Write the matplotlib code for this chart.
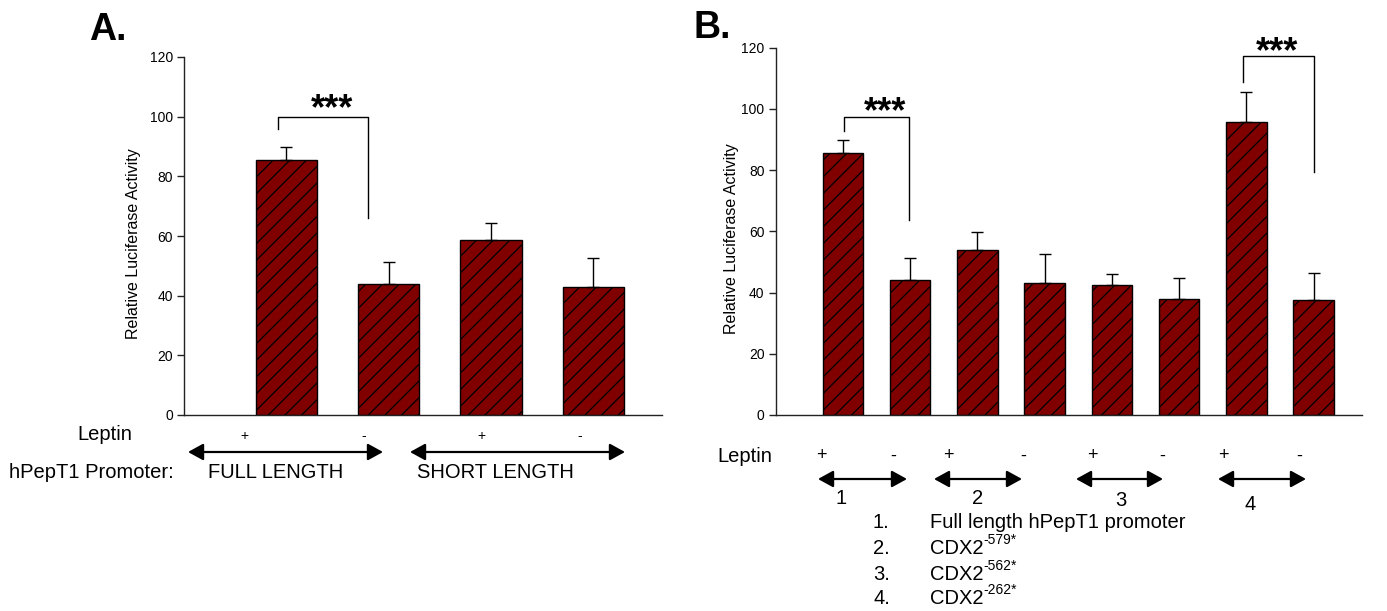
import matplotlib
matplotlib.use("Agg")
import matplotlib.pyplot as plt
from matplotlib.patches import FancyArrowPatch
from matplotlib.text import Annotation

plt.rcParams["font.family"] = ["Liberation Sans", "DejaVu Sans"]
plt.rcParams["hatch.linewidth"] = 0.9

W, H = 1387, 611
MAROON = "#800000"
AXCOL = "#222222"

# ---- data -------------------------------------------------------------
a_means = [85.5, 43.8, 58.6, 43.0]
a_err = [4.4, 7.5, 5.7, 9.5]

b_means = [85.6, 44.0, 54.0, 43.2, 42.4, 38.0, 95.8, 37.6]
b_err = [4.3, 7.4, 5.7, 9.5, 3.6, 6.9, 9.7, 8.9]

y_ticks = [0, 20, 40, 60, 80, 100, 120]
y_label = "Relative Luciferase Activity"

b_legend_nums = ["1.", "2.", "3.", "4."]
b_legend_base = ["Full length hPepT1 promoter", "CDX2", "CDX2", "CDX2"]
b_legend_sup = ["", "-579*", "-562*", "-262*"]


def px(x, y):
    """pixel position (from top-left) -> figure fraction"""
    return x / W, 1 - y / H


def style_axes(ax, xmax):
    ax.set_xlim(0, xmax)
    ax.set_ylim(0, 120)
    ax.set_yticks(y_ticks)
    ax.set_xticks([])
    for s in ("top", "right"):
        ax.spines[s].set_visible(False)
    for s in ("left", "bottom"):
        ax.spines[s].set_color(AXCOL)
        ax.spines[s].set_linewidth(1)
    ax.tick_params(axis="y", direction="out", length=5, width=1,
                   colors=AXCOL, labelsize=10, labelcolor="black", pad=3)
    ax.set_ylabel(y_label, fontsize=11.5)


def draw_bars(ax, means, err):
    xs = list(range(1, len(means) + 1))
    ax.bar(xs, means, width=0.6, color=MAROON, edgecolor="black",
           linewidth=1, hatch="//", zorder=2)
    ax.errorbar(xs, means, yerr=[[0] * len(err), err], fmt="none",
                ecolor="black", elinewidth=1, capsize=4.5, capthick=1,
                zorder=3)


def bracket(ax, x1, x2, ytop, y1, y2, xs, ys):
    ax.plot([x1, x1, x2, x2], [y1, ytop, ytop, y2], color="black",
            lw=1, clip_on=False, zorder=4)
    ax.text(xs, ys, "***", ha="center", va="center", fontsize=26,
            fontweight="bold", clip_on=False)


def arrow(fig, x1, x2, y):
    p = FancyArrowPatch(px(x1, y), px(x2, y), transform=fig.transFigure,
                        arrowstyle="<|-|>,head_length=0.4,head_width=0.22",
                        mutation_scale=23, lw=1.6, color="black",
                        shrinkA=0, shrinkB=0)
    fig.patches.append(p)


def ftext(fig, x, y, s, size=15, ha="left", **kw):
    return fig.text(*px(x, y), s, fontsize=size, ha=ha, va="center", **kw)


fig = plt.figure(figsize=(W / 100, H / 100), dpi=100, facecolor="white")

# ---- panel A ------------------------------------------------------------
axA = fig.add_axes([184 / W, 1 - 415 / H, (662 - 184) / W, (415 - 57) / H])
style_axes(axA, 4.67)
draw_bars(axA, a_means, a_err)
axA.yaxis.set_label_coords(-0.09, 0.48)
bracket(axA, 0.919, 1.799, 100, 96, 66, 1.447, 102.3)

# ---- panel B ------------------------------------------------------------
axB = fig.add_axes([775.7 / W, 1 - 415 / H, (1362 - 775.7) / W, (415 - 47.7) / H])
style_axes(axB, 8.72)
draw_bars(axB, b_means, b_err)
axB.yaxis.set_label_coords(-0.063, 0.48)
bracket(axB, 1.02, 1.98, 97.3, 92.9, 63.7, 1.63, 98.8)
bracket(axB, 6.954, 8.006, 117.2, 108.7, 79.3, 7.46, 118.3)

# panel letters
fig.text(*px(89, 40), "A.", fontsize=27, fontweight="bold", va="baseline")
fig.text(*px(693, 38), "B.", fontsize=27, fontweight="bold", va="baseline")

# ---- annotations under A -----------------------------------------------
ftext(fig, 77, 434, "Leptin", size=14.5)
for x, s in zip([244, 364, 481, 580], ["+", "-", "+", "-"]):
    ftext(fig, x, 436, s, size=10, ha="center")
arrow(fig, 188, 383, 452)
arrow(fig, 410, 625, 452)
ftext(fig, 9, 473, "hPepT1 Promoter:", size=14.5)
ftext(fig, 208, 473, "FULL LENGTH", size=14.5)
ftext(fig, 417, 473, "SHORT LENGTH", size=14.5)

# ---- annotations under B -----------------------------------------------
ftext(fig, 717, 457, "Leptin", size=14.5)
for x, s in zip([821, 893, 948, 1023, 1092, 1162, 1223, 1299],
                ["+", "-"] * 4):
    ftext(fig, x, 456, s, size=13, ha="center")
for x1, x2 in [(818, 907), (934, 1022), (1076, 1163), (1218, 1306)]:
    arrow(fig, x1, x2, 479)
for (x, y), s in zip([(841, 498), (978, 498), (1121, 500), (1250, 505)],
                     ["1", "2", "3", "4"]):
    ftext(fig, x, y, s, size=14.5, ha="center")

for i, y in enumerate([523, 548, 574, 598]):
    ftext(fig, 873, y, b_legend_nums[i], size=14.5)
    t = ftext(fig, 930, y, b_legend_base[i], size=14.5)
    if b_legend_sup[i]:
        a = Annotation(b_legend_sup[i], xy=(1.0, 0.9), xycoords=t,
                       fontsize=10, ha="left", va="center")
        fig.add_artist(a)

fig.savefig("out.png", dpi=100, facecolor="white")
